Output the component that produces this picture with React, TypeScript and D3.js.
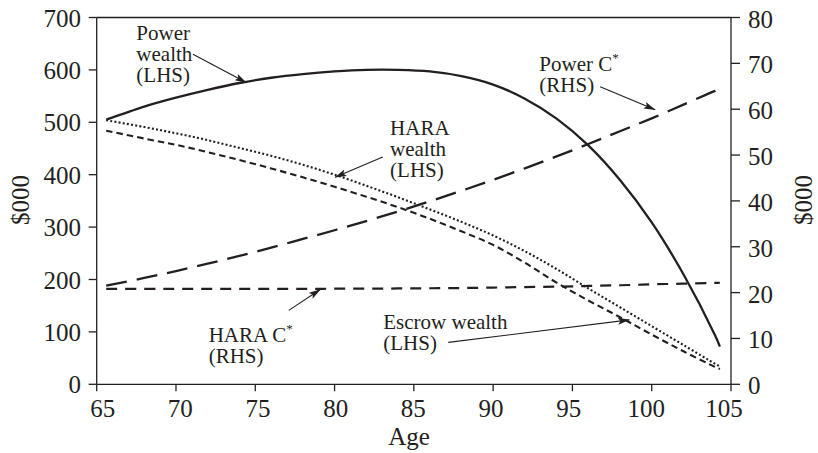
import React from "react";
import * as d3 from "d3";

// ---- data ----
const ages = [65.6, 68, 70, 72, 74, 76, 78, 80, 82, 84, 86, 88, 90, 92, 94, 96, 98, 100, 102, 104, 104.3];
const powerWealth = [505, 530, 547, 562, 575, 585, 592, 597, 600, 600, 597, 588, 572, 545, 507, 456, 390, 309, 210, 93, 72];
const haraWealth = [504, 491, 479, 466, 451, 436, 419, 400, 379, 357, 334, 310, 284, 254, 220, 183, 147, 111, 75, 39, 34];
const escrowWealth = [484, 469, 457, 443, 428, 412, 395, 377, 358, 338, 316, 292, 266, 232, 194, 160, 128, 95, 63, 33, 29];
const powerC = [21.5, 23.2, 24.7, 26.3, 28.0, 29.8, 31.7, 33.6, 35.6, 37.7, 39.9, 42.2, 44.6, 47.1, 49.7, 52.4, 55.2, 58.0, 61.0, 64.0, 64.4];
const haraC = [20.8, 20.8, 20.8, 20.8, 20.8, 20.8, 20.8, 20.85, 20.85, 20.9, 20.95, 21.0, 21.1, 21.2, 21.3, 21.45, 21.6, 21.8, 21.95, 22.1, 22.15];

const xTicks = [65, 70, 75, 80, 85, 90, 95, 100, 105];
const leftTicks = [0, 100, 200, 300, 400, 500, 600, 700];
const rightTicks = [0, 10, 20, 30, 40, 50, 60, 70, 80];

// annotations in data space (age, LHS value)
const annotations = [
  { lines: ["Power", "wealth", "(LHS)"], at: [67.5, 657], from: [71.07, 630], to: [74.43, 576] },
  { lines: ["HARA", "wealth", "(LHS)"], at: [83.5, 476], from: [83.04, 434], to: [80.03, 395] },
  { lines: ["HARA C*", "(RHS)"], at: [72.06, 81], from: [77.11, 141], to: [79.1, 181] },
  { lines: ["Escrow wealth", "(LHS)"], at: [83.07, 105], from: [87.17, 80], to: [98.59, 123] },
  { lines: ["Power C*", "(RHS)"], at: [92.91, 597], from: [96.75, 568], to: [100.22, 524] },
];

const W = 818, H = 453;
const INK = "#231f20";
const FONT = "'Liberation Serif', 'Times New Roman', serif";

export default function App() {
  const x = d3.scaleLinear().domain([65, 105]).range([96.7, 731]);
  const xLab = d3.scaleLinear().domain([65, 105]).range([102.7, 724]);
  const yL = d3.scaleLinear().domain([0, 700]).range([384.3, 17.5]);
  const yR = d3.scaleLinear().domain([0, 80]).range([384.3, 17.5]);

  const curve = d3.curveCatmullRom.alpha(0.5);
  const lineL = d3.line<number>().x((_, i) => x(ages[i])).y((d) => yL(d)).curve(curve);
  const lineR = d3.line<number>().x((_, i) => x(ages[i])).y((d) => yR(d)).curve(curve);

  const series = [
    { d: lineL(powerWealth), dash: undefined, w: 2.3 },
    { d: lineL(haraWealth), dash: "2,2.2", w: 2.1 },
    { d: lineL(escrowWealth), dash: "6.5,4", w: 2.1 },
    { d: lineR(powerC), dash: "21,10", w: 2.3 },
    { d: lineR(haraC), dash: "11,8", w: 2.2 },
  ];

  const x0 = x(65), x1 = x(105), yTop = yL(700), yBot = yL(0);

  const renderLabel = (s: string) => {
    if (s.endsWith("*")) {
      return (
        <>
          {s.slice(0, -1)}
          <tspan fontSize={13} dy={-9}>*</tspan>
        </>
      );
    }
    return s;
  };

  return (
    <svg width={W} height={H} style={{ position: "absolute", left: 0, top: 0, background: "#fff" }} fontFamily={FONT}>
      <defs>
        <marker id="ah" viewBox="0 0 12 7" refX={11.5} refY={3.5} markerWidth={12} markerHeight={7} markerUnits="userSpaceOnUse" orient="auto">
          <path d="M0,0 L12,3.5 L0,7 L2.5,3.5 z" fill={INK} />
        </marker>
      </defs>
      <rect width={W} height={H} fill="#fff" />

      {series.map((s, i) => (
        <path key={i} d={s.d || ""} fill="none" stroke={INK} strokeWidth={s.w} strokeDasharray={s.dash} />
      ))}

      <line x1={x0} x2={x1} y1={yTop} y2={yTop} stroke={INK} strokeWidth={1.3} />
      <line x1={x0} x2={x1} y1={yBot} y2={yBot} stroke={INK} strokeWidth={1.3} />
      <line x1={x0} x2={x0} y1={yTop} y2={yBot} stroke={INK} strokeWidth={1.3} />
      <line x1={x1} x2={x1} y1={yTop} y2={yBot} stroke={INK} strokeWidth={1.3} />

      {leftTicks.map((t) => (
        <g key={"l" + t}>
          <line x1={x0 - 8} x2={x0} y1={yL(t)} y2={yL(t)} stroke={INK} strokeWidth={1.3} />
          <text x={81} y={yL(t) + 9} textAnchor="end" fontSize={25} fill={INK}>{t}</text>
        </g>
      ))}
      {rightTicks.map((t) => (
        <g key={"r" + t}>
          <line x1={x1} x2={x1 + 9} y1={yR(t)} y2={yR(t)} stroke={INK} strokeWidth={1.3} />
          <text x={748} y={yR(t) + 10} textAnchor="start" fontSize={25} fill={INK}>{t}</text>
        </g>
      ))}
      {xTicks.map((t) => (
        <g key={"b" + t}>
          <line x1={x(t)} x2={x(t)} y1={yBot} y2={yBot + 7} stroke={INK} strokeWidth={1.3} />
          <text x={xLab(t)} y={417} textAnchor="middle" fontSize={25} fill={INK}>{t}</text>
        </g>
      ))}

      <text x={409} y={445} textAnchor="middle" fontSize={25} fill={INK}>Age</text>
      <text transform={`translate(29,200) rotate(-90)`} textAnchor="middle" fontSize={25} fill={INK}>$000</text>
      <text transform={`translate(812,200) rotate(-90)`} textAnchor="middle" fontSize={25} fill={INK}>$000</text>

      {annotations.map((a, i) => (
        <g key={"a" + i}>
          {a.lines.map((ln, j) => (
            <text key={j} x={x(a.at[0])} y={yL(a.at[1]) + j * 21} fontSize={21} fill={INK}>
              {renderLabel(ln)}
            </text>
          ))}
          <line
            x1={x(a.from[0])} y1={yL(a.from[1])}
            x2={x(a.to[0])} y2={yL(a.to[1])}
            stroke={INK} strokeWidth={1.1} markerEnd="url(#ah)"
          />
        </g>
      ))}
    </svg>
  );
}
